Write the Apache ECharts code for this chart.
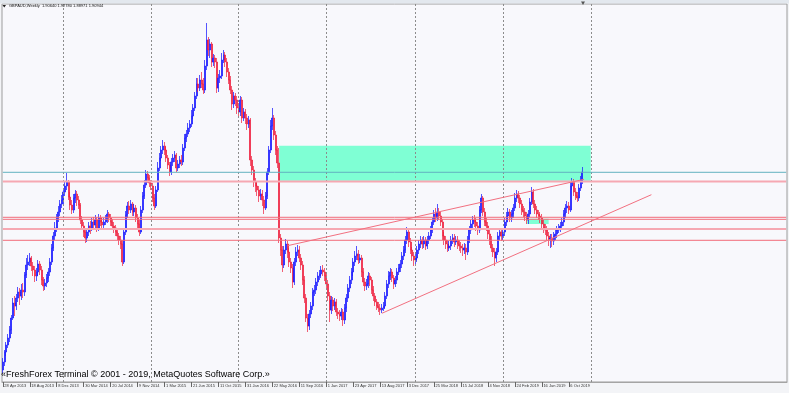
<!DOCTYPE html>
<html><head><meta charset="utf-8">
<script src="https://cdn.jsdelivr.net/npm/echarts@6/dist/echarts.min.js"></script>
<style>html,body{margin:0;padding:0;background:#f3f4f7;overflow:hidden}#c{width:789px;height:393px}</style>
</head><body><div id="c"></div>
<script>
// ---- data ----
const firstWeek = [2013, 3, 28];       // 28 Apr 2013 (year, monthIndex, day)
const weekCount = 466;                 // weeks on the time axis (incl. empty shift area)
const tickLabels = ["28 Apr 2013","18 Aug 2013","8 Dec 2013","30 Mar 2014","20 Jul 2014","9 Nov 2014","1 Mar 2015","21 Jun 2015","11 Oct 2015","31 Jan 2016","22 May 2016","11 Sep 2016","1 Jan 2017","23 Apr 2017","13 Aug 2017","3 Dec 2017","25 Mar 2018","15 Jul 2018","4 Nov 2018","24 Feb 2019","16 Jun 2019","6 Oct 2019"];
const headerText = "GBPAUD,Weekly  1.90640 1.92780 1.88971 1.90944";
const copyrightText = "«FreshForex Terminal © 2001 - 2019, MetaQuotes Software Corp.»";
const firstOpen = 1.468;
const closes = [
1.484,1.504,1.518,1.532,1.548,1.572,1.602,1.596,1.612,1.624,
1.616,1.628,1.624,1.658,1.678,1.684,1.692,1.676,1.668,1.656,
1.664,1.680,1.668,1.648,1.636,1.642,1.652,1.664,1.684,1.712,
1.736,1.752,1.772,1.784,1.800,1.808,1.824,1.836,1.844,1.814,
1.798,1.788,1.812,1.820,1.808,1.798,1.768,1.756,1.744,1.732,
1.744,1.756,1.752,1.764,1.758,1.768,1.752,1.772,1.764,1.758,
1.764,1.768,1.780,1.772,1.764,1.756,1.752,1.744,1.736,1.728,
1.720,1.684,1.744,1.778,1.796,1.788,1.800,1.784,1.792,1.772,
1.760,1.744,1.788,1.816,1.838,1.860,1.852,1.842,1.836,1.812,
1.796,1.828,1.872,1.892,1.908,1.916,1.908,1.892,1.878,1.864,
1.884,1.892,1.898,1.872,1.880,1.888,1.884,1.912,1.932,1.940,
1.952,1.960,1.976,1.992,2.016,2.040,2.032,2.048,2.040,2.028,
2.076,2.128,2.108,2.120,2.084,2.092,2.084,2.032,2.052,2.056,
2.088,2.098,2.084,2.064,2.048,2.028,2.000,2.016,2.008,1.992,
1.984,2.008,1.972,1.984,1.972,1.960,1.968,1.888,1.868,1.844,
1.836,1.828,1.816,1.820,1.808,1.792,1.816,1.864,1.908,1.956,
1.972,1.938,1.908,1.882,1.732,1.708,1.678,1.708,1.720,1.704,
1.684,1.672,1.644,1.684,1.704,1.708,1.692,1.678,1.648,1.612,
1.572,1.556,1.580,1.596,1.624,1.628,1.644,1.656,1.660,1.668,
1.664,1.656,1.640,1.616,1.588,1.608,1.596,1.604,1.584,1.580,
1.576,1.584,1.568,1.592,1.612,1.632,1.648,1.664,1.684,1.696,
1.700,1.688,1.692,1.664,1.644,1.636,1.640,1.656,1.648,1.628,
1.616,1.604,1.596,1.592,1.588,1.592,1.596,1.616,1.640,1.656,
1.664,1.652,1.640,1.648,1.664,1.672,1.680,1.696,1.708,1.728,
1.744,1.724,1.708,1.696,1.688,1.692,1.708,1.720,1.728,1.720,
1.728,1.716,1.728,1.736,1.748,1.764,1.780,1.772,1.784,1.776,
1.764,1.736,1.728,1.720,1.712,1.716,1.728,1.732,1.724,1.728,
1.720,1.716,1.712,1.708,1.712,1.704,1.728,1.748,1.760,1.768,
1.764,1.756,1.748,1.788,1.812,1.784,1.764,1.756,1.740,1.728,
1.712,1.704,1.692,1.704,1.736,1.744,1.736,1.744,1.764,1.776,
1.784,1.772,1.780,1.792,1.812,1.820,1.812,1.800,1.788,1.784,
1.776,1.768,1.780,1.804,1.824,1.800,1.788,1.780,1.776,1.772,
1.760,1.752,1.748,1.736,1.728,1.732,1.726,1.736,1.740,1.748,
1.752,1.756,1.764,1.780,1.792,1.796,1.788,1.836,1.844,1.824,
1.816,1.812,1.832,1.848,1.864];
const highs = [
1.492,1.508,1.524,1.540,1.556,1.578,1.612,1.616,1.620,1.634,
1.632,1.640,1.642,1.664,1.692,1.698,1.702,1.696,1.684,1.676,
1.672,1.688,1.686,1.676,1.654,1.650,1.660,1.672,1.692,1.720,
1.744,1.764,1.780,1.796,1.808,1.818,1.832,1.846,1.862,1.848,
1.824,1.808,1.820,1.828,1.826,1.816,1.802,1.776,1.764,1.752,
1.750,1.764,1.766,1.772,1.774,1.778,1.774,1.780,1.778,1.772,
1.772,1.778,1.788,1.784,1.780,1.770,1.764,1.758,1.752,1.742,
1.736,1.728,1.752,1.786,1.804,1.806,1.808,1.804,1.800,1.798,
1.780,1.768,1.796,1.824,1.848,1.868,1.866,1.858,1.848,1.842,
1.820,1.836,1.884,1.902,1.916,1.928,1.924,1.914,1.898,1.884,
1.892,1.900,1.906,1.902,1.888,1.896,1.898,1.920,1.940,1.948,
1.962,1.968,1.988,2.000,2.024,2.052,2.052,2.058,2.064,2.052,
2.088,2.162,2.134,2.130,2.124,2.100,2.098,2.092,2.060,2.068,
2.102,2.108,2.104,2.092,2.072,2.056,2.036,2.024,2.022,2.016,
2.002,2.016,2.014,1.992,1.990,1.980,1.976,1.972,1.896,1.876,
1.852,1.844,1.836,1.830,1.828,1.816,1.824,1.872,1.916,1.968,
1.992,1.978,1.946,1.916,1.912,1.740,1.716,1.716,1.730,1.726,
1.712,1.692,1.680,1.692,1.714,1.718,1.716,1.700,1.686,1.656,
1.620,1.580,1.588,1.604,1.632,1.638,1.652,1.664,1.668,1.676,
1.678,1.672,1.664,1.648,1.624,1.616,1.614,1.612,1.610,1.592,
1.588,1.592,1.590,1.600,1.620,1.640,1.656,1.672,1.692,1.706,
1.716,1.708,1.700,1.698,1.672,1.652,1.650,1.664,1.662,1.654,
1.636,1.622,1.610,1.604,1.600,1.600,1.604,1.624,1.648,1.666,
1.672,1.670,1.658,1.656,1.672,1.680,1.688,1.704,1.716,1.736,
1.754,1.748,1.732,1.714,1.704,1.700,1.716,1.728,1.736,1.734,
1.736,1.734,1.736,1.744,1.756,1.772,1.788,1.792,1.800,1.792,
1.784,1.770,1.744,1.736,1.728,1.726,1.736,1.740,1.740,1.736,
1.736,1.728,1.724,1.720,1.722,1.720,1.736,1.756,1.768,1.776,
1.778,1.772,1.764,1.796,1.820,1.816,1.792,1.772,1.764,1.748,
1.736,1.720,1.712,1.712,1.744,1.752,1.752,1.752,1.772,1.784,
1.792,1.790,1.788,1.800,1.822,1.828,1.826,1.818,1.808,1.796,
1.792,1.784,1.788,1.812,1.834,1.830,1.808,1.796,1.788,1.784,
1.780,1.768,1.760,1.756,1.744,1.740,1.740,1.744,1.748,1.756,
1.760,1.764,1.772,1.788,1.800,1.806,1.804,1.844,1.852,1.850,
1.832,1.824,1.840,1.856,1.874];
const lows = [
1.462,1.476,1.496,1.512,1.524,1.540,1.568,1.576,1.588,1.604,
1.598,1.608,1.612,1.616,1.652,1.668,1.676,1.666,1.656,1.644,
1.646,1.656,1.658,1.638,1.626,1.628,1.634,1.644,1.656,1.678,
1.706,1.728,1.744,1.764,1.776,1.792,1.800,1.816,1.828,1.808,
1.788,1.780,1.782,1.802,1.796,1.790,1.760,1.748,1.734,1.722,
1.724,1.736,1.740,1.746,1.748,1.752,1.744,1.746,1.756,1.750,
1.752,1.758,1.762,1.764,1.756,1.748,1.742,1.736,1.728,1.718,
1.710,1.676,1.680,1.738,1.772,1.780,1.782,1.776,1.776,1.764,
1.752,1.736,1.740,1.782,1.810,1.832,1.842,1.834,1.828,1.804,
1.788,1.792,1.824,1.866,1.886,1.900,1.898,1.884,1.870,1.856,
1.858,1.876,1.884,1.864,1.866,1.872,1.876,1.878,1.906,1.924,
1.934,1.944,1.954,1.970,1.986,2.010,2.024,2.026,2.032,2.020,
2.022,2.068,2.096,2.092,2.074,2.076,2.072,2.022,2.024,2.042,
2.050,2.082,2.074,2.054,2.040,2.020,1.988,1.992,1.996,1.980,
1.972,1.976,1.962,1.966,1.960,1.948,1.952,1.876,1.858,1.834,
1.824,1.816,1.804,1.808,1.796,1.780,1.788,1.810,1.858,1.902,
1.948,1.928,1.898,1.872,1.722,1.696,1.664,1.672,1.700,1.692,
1.674,1.662,1.632,1.638,1.676,1.696,1.684,1.668,1.638,1.602,
1.564,1.544,1.548,1.572,1.588,1.616,1.620,1.636,1.648,1.652,
1.656,1.646,1.632,1.606,1.564,1.580,1.586,1.588,1.576,1.570,
1.566,1.568,1.556,1.560,1.584,1.604,1.624,1.640,1.656,1.676,
1.688,1.680,1.682,1.654,1.636,1.626,1.628,1.632,1.636,1.620,
1.606,1.596,1.588,1.584,1.578,1.582,1.586,1.590,1.610,1.632,
1.648,1.644,1.630,1.634,1.640,1.658,1.664,1.672,1.688,1.702,
1.720,1.714,1.700,1.686,1.676,1.680,1.684,1.700,1.712,1.710,
1.712,1.708,1.710,1.720,1.730,1.742,1.758,1.764,1.766,1.768,
1.756,1.728,1.718,1.710,1.704,1.706,1.708,1.720,1.714,1.718,
1.710,1.706,1.702,1.696,1.700,1.688,1.698,1.722,1.740,1.752,
1.754,1.746,1.738,1.742,1.782,1.776,1.756,1.746,1.730,1.718,
1.704,1.694,1.676,1.684,1.698,1.728,1.726,1.728,1.736,1.756,
1.768,1.764,1.764,1.772,1.786,1.804,1.802,1.792,1.778,1.774,
1.766,1.760,1.760,1.774,1.798,1.792,1.780,1.772,1.768,1.762,
1.752,1.742,1.738,1.728,1.716,1.712,1.714,1.718,1.728,1.732,
1.742,1.744,1.748,1.756,1.772,1.782,1.780,1.784,1.828,1.816,
1.808,1.804,1.806,1.826,1.840];
const tealLevels = [1.8634];
const redLevels = [1.7734, 1.7694, 1.7274];
const redBandLevels = [1.845, 1.750];
const upperTrend = [["24 Jul 2016", 1.7166], ["8 Dec 2019", 1.8494]];
const lowerTrend = [["20 Aug 2017", 1.5814], ["13 Sep 2020", 1.8186]];
const zones = [
  [["19 Jun 2016", 1.9166], ["5 Jan 2020", 1.8466]],
  [["14 Apr 2019", 1.7705], ["14 Jul 2019", 1.7600]]
];
const priceMin = 1.444, priceMax = 2.200;

// ---- build ----
const months = ['Jan','Feb','Mar','Apr','May','Jun','Jul','Aug','Sep','Oct','Nov','Dec'];
const t0 = Date.UTC(firstWeek[0], firstWeek[1], firstWeek[2]);
const cats = [];
for (let i = 0; i < weekCount; i++) {
  const d = new Date(t0 + i * 7 * 86400000);
  cats.push(d.getUTCDate() + ' ' + months[d.getUTCMonth()] + ' ' + d.getUTCFullYear());
}
const ohlc = closes.map((c, i) => [i === 0 ? firstOpen : closes[i - 1], c, lows[i], highs[i]]);
const tickSet = new Set(tickLabels);
const showTick = (idx, val) => tickSet.has(val);
const separators = [];
for (let i = 1; i < weekCount && i <= closes.length + 8; i++) {
  if (cats[i].slice(-4) !== cats[i - 1].slice(-4)) separators.push({ xAxis: cats[i] });
}

const chart = echarts.init(document.getElementById('c'), null, { renderer: 'canvas' });
function markSeries(z, data, lineStyle) {
  return {
    type: 'line', data: [], z: z, silent: true,
    markLine: { symbol: ['none', 'none'], silent: true, animation: false, label: { show: false },
      emphasis: { disabled: true }, lineStyle: lineStyle, data: data }
  };
}
function segSeries(points, color, width) {
  return {
    type: 'line', z: 5, silent: true, symbol: 'none', animation: false,
    data: points, lineStyle: { color: color, width: width, type: 'solid' },
    emphasis: { disabled: true }
  };
}
// horizontal price levels spanning the whole axis
function levelSeries(values, color, width) {
  return values.map(v => segSeries([[cats[0], v], [cats[weekCount - 1], v]], color, width));
}

chart.setOption({
  animation: false,
  backgroundColor: '#f3f4f7',
  grid: { left: 2, right: 2, top: 4, bottom: 11, show: true, backgroundColor: '#f8f8fc', borderColor: '#9c9c9c', borderWidth: 1, outerBoundsMode: 'none', containLabel: false },
  xAxis: {
    type: 'category', data: cats, boundaryGap: true,
    axisLine: { show: true, lineStyle: { color: '#a4a4a4', width: 1 } },
    axisTick: { show: true, interval: showTick, alignWithLabel: true, length: 5, lineStyle: { color: '#666', width: 1 } },
    axisLabel: { interval: showTick, align: 'left', margin: 2, padding: [0, 0, 0, 1.5], fontSize: 4, fontFamily: 'Liberation Sans', color: '#333', hideOverlap: false },
    splitLine: { show: false }
  },
  yAxis: { type: 'value', min: priceMin, max: priceMax, show: false, splitLine: { show: false } },
  series: [
    {
      type: 'line', data: [], z: 1, silent: true,
      markArea: { silent: true, itemStyle: { color: '#7fffd4', opacity: 1 }, label: { show: false },
        data: zones.map(z => [{ coord: z[0] }, { coord: z[1] }]) }
    },
    markSeries(1, separators, { type: [2, 2], color: '#8c8c8c', width: 1 }),
    {
      type: 'candlestick', data: ohlc, z: 2, barWidth: 1.5, silent: true,
      itemStyle: { color: '#0f0fff', color0: '#ee1836', borderColor: 'rgba(30,30,255,0.75)', borderColor0: 'rgba(238,30,60,0.7)', borderWidth: 1 }
    },
    ...levelSeries(tealLevels, '#62b2c0', 1),
    ...levelSeries(redLevels, '#f26c7a', 1),
    ...levelSeries(redBandLevels, '#f6a8b2', 2),
    segSeries(upperTrend, '#f27080', 1),
    segSeries(lowerTrend, '#f27080', 1)
  ],
  graphic: [
    { type: 'rect', left: 0, top: 0, shape: { width: 789, height: 3.5 }, style: { fill: '#e3e8ee' }, silent: true, z: 10 },
    { type: 'polygon', shape: { points: [[2.5, 5], [6, 5], [4.25, 7.5]] }, style: { fill: '#222' }, silent: true, z: 10 },
    { type: 'text', x: 9, y: 6.3, style: { text: headerText, fontSize: 4, fontFamily: 'Liberation Sans', fill: '#111', verticalAlign: 'middle' }, silent: true, z: 10 },
    { type: 'polygon', shape: { points: [[581, 1.5], [585, 1.5], [583, 5]] }, style: { fill: '#555' }, silent: true, z: 10 },
    { type: 'text', x: 1, y: 370.5, style: { text: copyrightText, fontSize: 9, fontFamily: 'Liberation Sans', fill: '#000', verticalAlign: 'top' }, silent: true, z: 10 }
  ]
});
if (closes.length !== highs.length || closes.length !== lows.length) {
  chart.setOption({ title: { text: 'LEN ' + closes.length + ' ' + highs.length + ' ' + lows.length, left: 300, top: 40 } });
}
</script>
</body></html>
